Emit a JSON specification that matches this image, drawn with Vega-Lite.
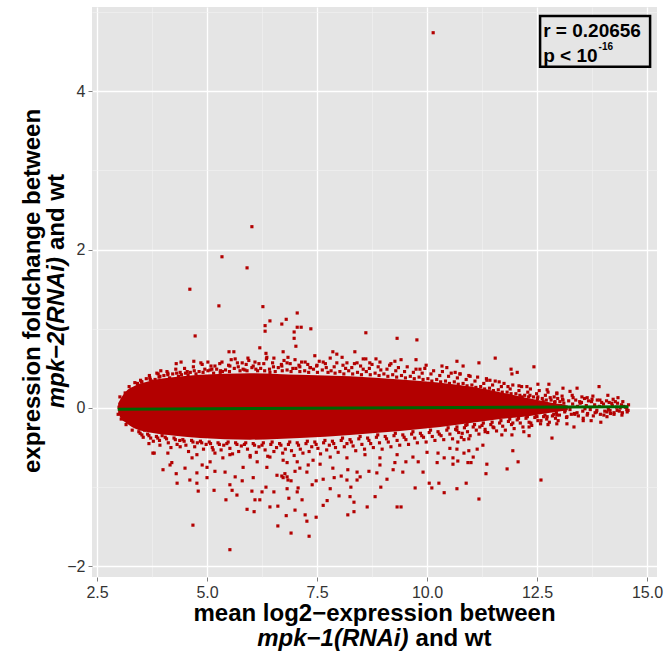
{
  "$schema": "https://vega.github.io/schema/vega-lite/v6.json",
  "width": 565,
  "height": 570,
  "autosize": {"type": "none"},
  "padding": {"left": 92, "top": 7, "right": 8, "bottom": 76},
  "background": "white",
  "config": {"view": {"fill": "#E5E5E5", "stroke": null}, "font": "Liberation Sans"},
  "datasets": {
    "core": [
      {"x": 2.98, "hi": 0.06, "lo": -0.06},
      {"x": 3.05, "hi": 0.13, "lo": -0.14},
      {"x": 3.14, "hi": 0.2, "lo": -0.18},
      {"x": 3.36, "hi": 0.28, "lo": -0.26},
      {"x": 3.7, "hi": 0.34, "lo": -0.31},
      {"x": 4.27, "hi": 0.39, "lo": -0.35},
      {"x": 4.84, "hi": 0.42, "lo": -0.38},
      {"x": 5.98, "hi": 0.44, "lo": -0.4},
      {"x": 7.11, "hi": 0.42, "lo": -0.38},
      {"x": 8.25, "hi": 0.4, "lo": -0.34},
      {"x": 9.39, "hi": 0.36, "lo": -0.29},
      {"x": 10.3, "hi": 0.32, "lo": -0.24},
      {"x": 10.98, "hi": 0.27, "lo": -0.19},
      {"x": 11.66, "hi": 0.2, "lo": -0.14},
      {"x": 12.34, "hi": 0.12, "lo": -0.1},
      {"x": 12.8, "hi": 0.07, "lo": -0.06},
      {"x": 13.2, "hi": 0.03, "lo": -0.03}
    ],
    "fit": [
      {"x": 2.97, "y": -0.015},
      {"x": 14.58, "y": 0.015}
    ],
    "pts": [
      {"x":10.14,"y":4.74},{"x":6.02,"y":2.29},{"x":5.34,"y":1.91},{"x":5.91,"y":1.77},{"x":4.61,"y":1.5},
      {"x":5.27,"y":1.29},{"x":6.27,"y":1.28},{"x":6.43,"y":1.1},{"x":6.8,"y":1.12},{"x":6.7,"y":1.06},
      {"x":6.32,"y":1.04},{"x":6.32,"y":0.97},{"x":4.73,"y":0.91},{"x":6.2,"y":0.76},{"x":5.5,"y":0.71},
      {"x":5.61,"y":0.71},{"x":6.34,"y":0.69},{"x":5.93,"y":0.63},{"x":5.64,"y":0.62},{"x":6.73,"y":0.71},
      {"x":6.84,"y":0.64},{"x":4.3,"y":0.56},{"x":4.41,"y":0.58},{"x":4.7,"y":0.59},{"x":4.86,"y":0.57},
      {"x":5.02,"y":0.58},{"x":5.34,"y":0.58},{"x":5.52,"y":0.53},{"x":5.8,"y":0.57},{"x":6.05,"y":0.53},
      {"x":6.18,"y":0.56},{"x":6.36,"y":0.64},{"x":6.52,"y":0.63},{"x":6.7,"y":0.53},{"x":6.82,"y":0.57},
      {"x":3.86,"y":0.44},{"x":4.11,"y":0.44},{"x":4.57,"y":0.42},{"x":3.52,"y":0.33},{"x":3.36,"y":0.32},
      {"x":3.23,"y":0.27},{"x":3.02,"y":0.14},{"x":3.14,"y":0.19},{"x":7.05,"y":1.2},{"x":7.14,"y":1.02},
      {"x":7.05,"y":1.02},{"x":6.98,"y":0.96},{"x":6.98,"y":0.88},{"x":7.02,"y":0.78},{"x":7.36,"y":1.0},
      {"x":8.61,"y":0.95},{"x":9.32,"y":0.88},{"x":9.77,"y":0.86},{"x":7.0,"y":0.61},{"x":7.23,"y":0.58},
      {"x":7.45,"y":0.66},{"x":7.86,"y":0.71},{"x":7.95,"y":0.68},{"x":8.07,"y":0.64},{"x":8.36,"y":0.71},
      {"x":8.55,"y":0.62},{"x":8.61,"y":0.62},{"x":8.84,"y":0.62},{"x":8.93,"y":0.58},{"x":9.18,"y":0.56},
      {"x":9.27,"y":0.59},{"x":9.41,"y":0.61},{"x":9.75,"y":0.61},{"x":9.98,"y":0.54},{"x":10.34,"y":0.53},
      {"x":10.68,"y":0.59},{"x":7.8,"y":0.63},{"x":7.64,"y":0.58},{"x":8.18,"y":0.57},{"x":8.41,"y":0.57},
      {"x":8.7,"y":0.57},{"x":9.84,"y":0.49},{"x":10.45,"y":0.51},{"x":10.64,"y":0.45},{"x":7.5,"y":0.54},
      {"x":7.11,"y":0.52},{"x":7.34,"y":0.51},{"x":10.82,"y":0.53},{"x":11.18,"y":0.57},{"x":11.55,"y":0.63},
      {"x":11.91,"y":0.49},{"x":11.93,"y":0.43},{"x":12.05,"y":0.45},{"x":12.43,"y":0.52},{"x":10.75,"y":0.43},
      {"x":10.98,"y":0.4},{"x":11.36,"y":0.35},{"x":11.43,"y":0.35},{"x":11.64,"y":0.33},{"x":12.52,"y":0.3},
      {"x":12.77,"y":0.3},{"x":13.09,"y":0.25},{"x":13.41,"y":0.25},{"x":13.91,"y":0.27},{"x":12.09,"y":0.28},
      {"x":12.27,"y":0.27},{"x":11.84,"y":0.27},{"x":12.73,"y":0.23},{"x":12.95,"y":0.19},{"x":13.25,"y":0.21},
      {"x":13.52,"y":0.14},{"x":13.77,"y":0.15},{"x":14.11,"y":0.16},{"x":14.23,"y":0.11},{"x":14.34,"y":0.13},
      {"x":14.45,"y":0.08},{"x":13.93,"y":0.1},{"x":13.64,"y":0.13},{"x":13.32,"y":0.13},{"x":13.09,"y":0.1},
      {"x":12.8,"y":0.13},{"x":12.52,"y":0.14},{"x":12.34,"y":0.16},{"x":12.16,"y":0.14},{"x":14.55,"y":-0.05},
      {"x":14.43,"y":-0.09},{"x":14.32,"y":-0.03},{"x":14.09,"y":-0.05},{"x":13.86,"y":-0.03},{"x":13.64,"y":-0.09},
      {"x":13.41,"y":-0.06},{"x":13.18,"y":-0.11},{"x":12.95,"y":-0.09},{"x":12.73,"y":-0.11},{"x":12.5,"y":-0.11},
      {"x":12.27,"y":-0.1},{"x":13.55,"y":-0.13},{"x":14.09,"y":-0.11},{"x":10.68,"y":-0.28},{"x":10.8,"y":-0.32},
      {"x":10.91,"y":-0.21},{"x":11.2,"y":-0.24},{"x":11.32,"y":-0.3},{"x":11.7,"y":-0.34},{"x":11.93,"y":-0.34},
      {"x":12.2,"y":-0.3},{"x":12.32,"y":-0.35},{"x":12.36,"y":-0.19},{"x":12.59,"y":-0.16},{"x":12.75,"y":-0.21},
      {"x":12.84,"y":-0.38},{"x":12.95,"y":-0.2},{"x":13.18,"y":-0.2},{"x":13.34,"y":-0.24},{"x":13.55,"y":-0.16},
      {"x":13.73,"y":-0.16},{"x":13.95,"y":-0.18},{"x":14.25,"y":-0.08},{"x":10.7,"y":-0.43},{"x":10.84,"y":-0.4},
      {"x":10.95,"y":-0.39},{"x":11.27,"y":-0.47},{"x":10.68,"y":-0.52},{"x":10.84,"y":-0.57},{"x":10.95,"y":-0.54},
      {"x":11.14,"y":-0.52},{"x":11.05,"y":-0.62},{"x":10.59,"y":-0.63},{"x":10.7,"y":-0.67},{"x":10.59,"y":-0.71},
      {"x":10.93,"y":-0.69},{"x":11.0,"y":-0.69},{"x":11.36,"y":-0.71},{"x":11.95,"y":-0.54},{"x":12.07,"y":-0.68},
      {"x":11.82,"y":-0.77},{"x":11.34,"y":-0.83},{"x":10.89,"y":-0.95},{"x":10.68,"y":-1.02},{"x":12.59,"y":-0.91},
      {"x":11.18,"y":-1.15},{"x":11.95,"y":-0.19},{"x":11.5,"y":-0.24},{"x":12.32,"y":-0.24},{"x":6.82,"y":-1.02},
      {"x":6.86,"y":-1.14},{"x":7.16,"y":-1.16},{"x":7.0,"y":-1.29},{"x":6.8,"y":-1.36},{"x":7.23,"y":-1.35},
      {"x":7.27,"y":-1.43},{"x":7.48,"y":-1.38},{"x":6.91,"y":-1.58},{"x":7.32,"y":-1.62},{"x":7.05,"y":-1.06},
      {"x":7.07,"y":-1.01},{"x":7.39,"y":-0.97},{"x":7.64,"y":-1.23},{"x":7.73,"y":-1.17},{"x":7.8,"y":-1.02},
      {"x":8.0,"y":-1.11},{"x":8.25,"y":-1.12},{"x":8.2,"y":-1.35},{"x":8.34,"y":-1.31},{"x":8.34,"y":-1.19},
      {"x":8.64,"y":-1.25},{"x":8.82,"y":-1.12},{"x":8.95,"y":-1.0},{"x":9.32,"y":-1.25},{"x":9.41,"y":-1.25},
      {"x":9.73,"y":-1.01},{"x":10.05,"y":-0.95},{"x":10.11,"y":-1.01},{"x":10.27,"y":-0.95},{"x":10.39,"y":-1.07},
      {"x":8.27,"y":-1.0},{"x":8.41,"y":-0.91},{"x":8.18,"y":-0.91},{"x":8.05,"y":-0.86},{"x":7.89,"y":-0.88},
      {"x":7.64,"y":-0.9},{"x":7.48,"y":-0.92},{"x":8.48,"y":-0.87},{"x":8.68,"y":-0.8},{"x":8.86,"y":-0.82},
      {"x":9.09,"y":-0.9},{"x":9.23,"y":-0.78},{"x":9.45,"y":-0.81},{"x":9.91,"y":-0.81},{"x":6.82,"y":-0.87},
      {"x":6.91,"y":-0.92},{"x":6.7,"y":-0.86},{"x":6.77,"y":-0.83},{"x":7.0,"y":-0.8},{"x":7.27,"y":-0.81},
      {"x":7.11,"y":-0.76},{"x":7.3,"y":-0.72},{"x":7.57,"y":-0.71},{"x":7.86,"y":-0.76},{"x":8.2,"y":-0.78},
      {"x":8.41,"y":-0.81},{"x":8.93,"y":-0.72},{"x":9.27,"y":-0.69},{"x":9.8,"y":-0.68},{"x":10.23,"y":-0.69},
      {"x":10.39,"y":-0.63},{"x":9.52,"y":-0.68},{"x":10.0,"y":-0.56},{"x":10.25,"y":-0.57},{"x":10.52,"y":-0.51},
      {"x":6.73,"y":-0.66},{"x":7.05,"y":-0.68},{"x":7.41,"y":-0.66},{"x":7.8,"y":-0.62},{"x":8.18,"y":-0.63},
      {"x":8.59,"y":-0.59},{"x":8.93,"y":-0.63},{"x":9.32,"y":-0.59},{"x":9.68,"y":-0.62},{"x":4.68,"y":-1.48},
      {"x":5.52,"y":-1.79},{"x":4.3,"y":-0.83},{"x":4.32,"y":-0.95},{"x":4.0,"y":-0.78},{"x":4.5,"y":-0.76},
      {"x":4.61,"y":-0.91},{"x":4.77,"y":-0.82},{"x":4.77,"y":-0.95},{"x":4.8,"y":-1.05},{"x":5.0,"y":-0.88},
      {"x":5.16,"y":-1.04},{"x":5.43,"y":-1.16},{"x":5.52,"y":-0.97},{"x":5.57,"y":-1.04},{"x":5.68,"y":-1.1},
      {"x":5.91,"y":-1.28},{"x":6.07,"y":-1.31},{"x":6.09,"y":-1.16},{"x":6.2,"y":-1.16},{"x":6.25,"y":-1.06},
      {"x":6.43,"y":-1.25},{"x":6.61,"y":-1.49},{"x":6.61,"y":-1.24},{"x":6.52,"y":-1.06},{"x":6.34,"y":-1.0},
      {"x":6.02,"y":-1.05},{"x":5.8,"y":-0.92},{"x":5.41,"y":-0.81},{"x":5.18,"y":-0.8},{"x":5.0,"y":-0.75},
      {"x":4.16,"y":-0.72},{"x":4.2,"y":-0.69},{"x":3.77,"y":-0.57},{"x":3.8,"y":-0.57},{"x":3.68,"y":-0.45},
      {"x":3.55,"y":-0.37},{"x":3.93,"y":-0.47},{"x":4.11,"y":-0.57},{"x":4.39,"y":-0.49},{"x":4.66,"y":-0.63},
      {"x":4.89,"y":-0.72},{"x":5.07,"y":-0.68},{"x":5.36,"y":-0.63},{"x":5.64,"y":-0.87},{"x":5.82,"y":-0.75},
      {"x":6.05,"y":-0.88},{"x":6.14,"y":-0.68},{"x":6.36,"y":-0.75},{"x":6.59,"y":-0.85},{"x":6.73,"y":-0.88},
      {"x":6.84,"y":-0.91},{"x":4.77,"y":-0.59},{"x":5.14,"y":-0.53},{"x":5.52,"y":-0.59},{"x":5.98,"y":-0.62},
      {"x":6.43,"y":-0.62},{"x":6.82,"y":-0.69},
      {"x":2.98,"y":-0.08},{"x":3.05,"y":-0.14},{"x":3.16,"y":-0.21},{"x":3.3,"y":-0.28},{"x":3.0,"y":0.01},
      {"x":3.7,"y":0.38},{"x":3.93,"y":0.4},{"x":4.39,"y":0.45},{"x":5.07,"y":0.48},{"x":5.3,"y":0.45},
      {"x":5.86,"y":0.48},{"x":6.43,"y":0.45},{"x":5.18,"y":0.53},
      {"x":3.42,"y":0.31},{"x":3.49,"y":0.35},{"x":3.55,"y":0.29},{"x":3.51,"y":0.33},{"x":3.45,"y":-0.3},{"x":3.52,"y":-0.34},{"x":3.58,"y":-0.28},{"x":3.48,"y":-0.32},
      {"x":3.62,"y":0.37},{"x":3.69,"y":0.41},{"x":3.75,"y":0.34},{"x":3.71,"y":0.36},{"x":3.65,"y":-0.33},{"x":3.72,"y":-0.38},{"x":3.78,"y":-0.42},{"x":3.68,"y":-0.35},
      {"x":3.82,"y":0.36},{"x":3.89,"y":0.43},{"x":3.95,"y":0.47},{"x":3.91,"y":0.39},{"x":3.85,"y":-0.36},{"x":3.92,"y":-0.41},{"x":3.98,"y":-0.35},{"x":3.88,"y":-0.38},
      {"x":4.02,"y":0.41},{"x":4.09,"y":0.46},{"x":4.15,"y":0.38},{"x":4.11,"y":0.42},{"x":4.05,"y":-0.37},{"x":4.12,"y":-0.44},{"x":4.18,"y":-0.5},{"x":4.08,"y":-0.39},
      {"x":4.22,"y":0.43},{"x":4.29,"y":0.49},{"x":4.35,"y":0.4},{"x":4.31,"y":0.44},{"x":4.25,"y":-0.38},{"x":4.32,"y":-0.46},{"x":4.38,"y":-0.41},{"x":4.28,"y":-0.4},
      {"x":4.42,"y":0.42},{"x":4.49,"y":0.5},{"x":4.55,"y":0.46},{"x":4.51,"y":0.44},{"x":4.45,"y":-0.4},{"x":4.52,"y":-0.47},{"x":4.58,"y":-0.55},{"x":4.48,"y":-0.42},
      {"x":4.62,"y":0.45},{"x":4.69,"y":0.52},{"x":4.75,"y":0.43},{"x":4.71,"y":0.47},{"x":4.65,"y":-0.41},{"x":4.72,"y":-0.49},{"x":4.78,"y":-0.44},{"x":4.68,"y":-0.43},
      {"x":4.82,"y":0.46},{"x":4.89,"y":0.55},{"x":4.95,"y":0.49},{"x":4.91,"y":0.45},{"x":4.85,"y":-0.42},{"x":4.92,"y":-0.52},{"x":4.98,"y":-0.46},{"x":4.88,"y":-0.44},
      {"x":5.02,"y":0.47},{"x":5.09,"y":0.53},{"x":5.15,"y":0.44},{"x":5.11,"y":0.49},{"x":5.05,"y":-0.43},{"x":5.12,"y":-0.5},{"x":5.18,"y":-0.57},{"x":5.08,"y":-0.45},
      {"x":5.22,"y":0.49},{"x":5.29,"y":0.56},{"x":5.35,"y":0.46},{"x":5.31,"y":0.47},{"x":5.25,"y":-0.44},{"x":5.32,"y":-0.53},{"x":5.38,"y":-0.47},{"x":5.28,"y":-0.46},
      {"x":5.42,"y":0.48},{"x":5.49,"y":0.54},{"x":5.55,"y":0.61},{"x":5.51,"y":0.46},{"x":5.45,"y":-0.45},{"x":5.52,"y":-0.51},{"x":5.58,"y":-0.58},{"x":5.48,"y":-0.43},
      {"x":5.62,"y":0.5},{"x":5.69,"y":0.57},{"x":5.75,"y":0.47},{"x":5.71,"y":0.52},{"x":5.65,"y":-0.44},{"x":5.72,"y":-0.55},{"x":5.78,"y":-0.48},{"x":5.68,"y":-0.46},
      {"x":5.82,"y":0.49},{"x":5.89,"y":0.55},{"x":5.95,"y":0.6},{"x":5.91,"y":0.47},{"x":5.85,"y":-0.46},{"x":5.92,"y":-0.52},{"x":5.98,"y":-0.6},{"x":5.88,"y":-0.44},
      {"x":6.02,"y":0.51},{"x":6.09,"y":0.58},{"x":6.15,"y":0.47},{"x":6.11,"y":0.49},{"x":6.05,"y":-0.45},{"x":6.12,"y":-0.56},{"x":6.18,"y":-0.49},{"x":6.08,"y":-0.47},
      {"x":6.22,"y":0.5},{"x":6.29,"y":0.56},{"x":6.35,"y":0.62},{"x":6.31,"y":0.47},{"x":6.25,"y":-0.47},{"x":6.32,"y":-0.53},{"x":6.38,"y":-0.61},{"x":6.28,"y":-0.44},
      {"x":6.42,"y":0.49},{"x":6.49,"y":0.57},{"x":6.55,"y":0.46},{"x":6.51,"y":0.52},{"x":6.45,"y":-0.46},{"x":6.52,"y":-0.55},{"x":6.58,"y":-0.5},{"x":6.48,"y":-0.43},
      {"x":6.62,"y":0.51},{"x":6.69,"y":0.55},{"x":6.75,"y":0.6},{"x":6.71,"y":0.47},{"x":6.65,"y":-0.45},{"x":6.72,"y":-0.57},{"x":6.78,"y":-0.52},{"x":6.68,"y":-0.47},
      {"x":6.82,"y":0.48},{"x":6.89,"y":0.56},{"x":6.95,"y":0.5},{"x":6.91,"y":0.46},{"x":6.85,"y":-0.46},{"x":6.92,"y":-0.54},{"x":6.98,"y":-0.6},{"x":6.88,"y":-0.43},
      {"x":7.02,"y":0.5},{"x":7.09,"y":0.54},{"x":7.15,"y":0.58},{"x":7.11,"y":0.46},{"x":7.05,"y":-0.44},{"x":7.12,"y":-0.52},{"x":7.18,"y":-0.57},{"x":7.08,"y":-0.47},
      {"x":7.22,"y":0.47},{"x":7.29,"y":0.55},{"x":7.35,"y":0.51},{"x":7.31,"y":0.45},{"x":7.25,"y":-0.45},{"x":7.32,"y":-0.55},{"x":7.38,"y":-0.49},{"x":7.28,"y":-0.42},
      {"x":7.42,"y":0.49},{"x":7.49,"y":0.53},{"x":7.55,"y":0.59},{"x":7.51,"y":0.45},{"x":7.45,"y":-0.43},{"x":7.52,"y":-0.51},{"x":7.58,"y":-0.58},{"x":7.48,"y":-0.46},
      {"x":7.62,"y":0.48},{"x":7.69,"y":0.56},{"x":7.75,"y":0.45},{"x":7.71,"y":0.51},{"x":7.65,"y":-0.44},{"x":7.72,"y":-0.53},{"x":7.78,"y":-0.47},{"x":7.68,"y":-0.41},
      {"x":7.82,"y":0.47},{"x":7.89,"y":0.52},{"x":7.95,"y":0.57},{"x":7.91,"y":0.44},{"x":7.85,"y":-0.42},{"x":7.92,"y":-0.5},{"x":7.98,"y":-0.56},{"x":7.88,"y":-0.45},
      {"x":8.02,"y":0.46},{"x":8.09,"y":0.54},{"x":8.15,"y":0.5},{"x":8.11,"y":0.43},{"x":8.05,"y":-0.41},{"x":8.12,"y":-0.49},{"x":8.18,"y":-0.45},{"x":8.08,"y":-0.38},
      {"x":8.22,"y":0.47},{"x":8.29,"y":0.51},{"x":8.35,"y":0.56},{"x":8.31,"y":0.43},{"x":8.25,"y":-0.4},{"x":8.32,"y":-0.48},{"x":8.38,"y":-0.54},{"x":8.28,"y":-0.43},
      {"x":8.42,"y":0.45},{"x":8.49,"y":0.53},{"x":8.55,"y":0.49},{"x":8.51,"y":0.42},{"x":8.45,"y":-0.39},{"x":8.52,"y":-0.46},{"x":8.58,"y":-0.52},{"x":8.48,"y":-0.36},
      {"x":8.62,"y":0.46},{"x":8.69,"y":0.5},{"x":8.75,"y":0.55},{"x":8.71,"y":0.42},{"x":8.65,"y":-0.38},{"x":8.72,"y":-0.45},{"x":8.78,"y":-0.5},{"x":8.68,"y":-0.41},
      {"x":8.82,"y":0.44},{"x":8.89,"y":0.52},{"x":8.95,"y":0.48},{"x":8.91,"y":0.41},{"x":8.85,"y":-0.37},{"x":8.92,"y":-0.44},{"x":8.98,"y":-0.52},{"x":8.88,"y":-0.34},
      {"x":9.02,"y":0.43},{"x":9.09,"y":0.49},{"x":9.15,"y":0.54},{"x":9.11,"y":0.4},{"x":9.05,"y":-0.36},{"x":9.12,"y":-0.43},{"x":9.18,"y":-0.49},{"x":9.08,"y":-0.39},
      {"x":9.22,"y":0.42},{"x":9.29,"y":0.47},{"x":9.35,"y":0.51},{"x":9.31,"y":0.39},{"x":9.25,"y":-0.35},{"x":9.32,"y":-0.41},{"x":9.38,"y":-0.47},{"x":9.28,"y":-0.32},
      {"x":9.42,"y":0.41},{"x":9.49,"y":0.46},{"x":9.55,"y":0.52},{"x":9.51,"y":0.38},{"x":9.45,"y":-0.34},{"x":9.52,"y":-0.4},{"x":9.58,"y":-0.46},{"x":9.48,"y":-0.37},
      {"x":9.62,"y":0.4},{"x":9.69,"y":0.45},{"x":9.75,"y":0.49},{"x":9.71,"y":0.37},{"x":9.65,"y":-0.33},{"x":9.72,"y":-0.38},{"x":9.78,"y":-0.44},{"x":9.68,"y":-0.3},
      {"x":9.82,"y":0.39},{"x":9.89,"y":0.44},{"x":9.95,"y":0.5},{"x":9.91,"y":0.36},{"x":9.85,"y":-0.32},{"x":9.92,"y":-0.37},{"x":9.98,"y":-0.43},{"x":9.88,"y":-0.35},
      {"x":10.02,"y":0.37},{"x":10.09,"y":0.43},{"x":10.15,"y":0.47},{"x":10.11,"y":0.34},{"x":10.05,"y":-0.31},{"x":10.12,"y":-0.36},{"x":10.18,"y":-0.41},{"x":10.08,"y":-0.28},
      {"x":10.22,"y":0.36},{"x":10.29,"y":0.41},{"x":10.35,"y":0.46},{"x":10.31,"y":0.33},{"x":10.25,"y":-0.3},{"x":10.32,"y":-0.35},{"x":10.38,"y":-0.4},{"x":10.28,"y":-0.33},
      {"x":10.42,"y":0.34},{"x":10.49,"y":0.4},{"x":10.55,"y":0.44},{"x":10.51,"y":0.31},{"x":10.45,"y":-0.28},{"x":10.52,"y":-0.33},{"x":10.58,"y":-0.39},{"x":10.48,"y":-0.25},
      {"x":10.62,"y":0.33},{"x":10.69,"y":0.38},{"x":10.75,"y":0.43},{"x":10.71,"y":0.3},{"x":10.65,"y":-0.27},{"x":10.72,"y":-0.31},{"x":10.78,"y":-0.37},{"x":10.68,"y":-0.24},
      {"x":10.82,"y":0.31},{"x":10.89,"y":0.36},{"x":10.95,"y":0.41},{"x":10.91,"y":0.28},{"x":10.85,"y":-0.25},{"x":10.92,"y":-0.3},{"x":10.98,"y":-0.35},{"x":10.88,"y":-0.22},
      {"x":11.02,"y":0.29},{"x":11.09,"y":0.34},{"x":11.15,"y":0.39},{"x":11.11,"y":0.26},{"x":11.05,"y":-0.24},{"x":11.12,"y":-0.28},{"x":11.18,"y":-0.33},{"x":11.08,"y":-0.21},
      {"x":11.22,"y":0.27},{"x":11.29,"y":0.31},{"x":11.35,"y":0.37},{"x":11.31,"y":0.24},{"x":11.25,"y":-0.22},{"x":11.32,"y":-0.27},{"x":11.38,"y":-0.31},{"x":11.28,"y":-0.19},
      {"x":11.42,"y":0.25},{"x":11.49,"y":0.29},{"x":11.55,"y":0.34},{"x":11.51,"y":0.22},{"x":11.45,"y":-0.21},{"x":11.52,"y":-0.25},{"x":11.58,"y":-0.29},{"x":11.48,"y":-0.18},
      {"x":11.62,"y":0.23},{"x":11.69,"y":0.27},{"x":11.75,"y":0.31},{"x":11.71,"y":0.2},{"x":11.65,"y":-0.19},{"x":11.72,"y":-0.23},{"x":11.78,"y":-0.28},{"x":11.68,"y":-0.16},
      {"x":11.82,"y":0.2},{"x":11.89,"y":0.24},{"x":11.95,"y":0.29},{"x":11.91,"y":0.18},{"x":11.85,"y":-0.17},{"x":11.92,"y":-0.21},{"x":11.98,"y":-0.26},{"x":11.88,"y":-0.14},
      {"x":12.02,"y":0.18},{"x":12.09,"y":0.22},{"x":12.15,"y":0.27},{"x":12.11,"y":0.16},{"x":12.05,"y":-0.15},{"x":12.12,"y":-0.19},{"x":12.18,"y":-0.24},{"x":12.08,"y":-0.13},
      {"x":12.22,"y":0.16},{"x":12.29,"y":0.2},{"x":12.35,"y":0.24},{"x":12.31,"y":0.14},{"x":12.25,"y":-0.13},{"x":12.32,"y":-0.18},{"x":12.38,"y":-0.22},{"x":12.28,"y":-0.11},
      {"x":12.42,"y":0.14},{"x":12.49,"y":0.18},{"x":12.55,"y":0.22},{"x":12.51,"y":0.12},{"x":12.45,"y":-0.12},{"x":12.52,"y":-0.16},{"x":12.58,"y":-0.2},{"x":12.48,"y":-0.1},
      {"x":12.62,"y":0.12},{"x":12.69,"y":0.16},{"x":12.75,"y":0.2},{"x":12.71,"y":0.1},{"x":12.65,"y":-0.11},{"x":12.72,"y":-0.14},{"x":12.78,"y":-0.18},{"x":12.68,"y":-0.09},
      {"x":12.82,"y":0.1},{"x":12.89,"y":0.14},{"x":12.95,"y":0.18},{"x":12.91,"y":0.08},{"x":12.85,"y":-0.1},{"x":12.92,"y":-0.13},{"x":12.98,"y":-0.16},{"x":12.88,"y":-0.08},
      {"x":12.9,"y":0.07},{"x":12.94,"y":-0.06},{"x":12.97,"y":0.12},{"x":13.01,"y":-0.09},{"x":13.04,"y":0.03},{"x":13.08,"y":0.11},
      {"x":13.11,"y":0.06},{"x":13.13,"y":-0.05},{"x":13.17,"y":-0.12},{"x":13.22,"y":0.09},{"x":13.25,"y":-0.02},{"x":13.28,"y":-0.08},
      {"x":13.31,"y":0.05},{"x":13.35,"y":-0.07},{"x":13.38,"y":0.1},{"x":13.42,"y":0.02},{"x":13.44,"y":-0.1},{"x":13.47,"y":0.08},
      {"x":13.51,"y":0.07},{"x":13.54,"y":-0.04},{"x":13.58,"y":0.12},{"x":13.62,"y":0.03},{"x":13.65,"y":-0.07},{"x":13.67,"y":0.09},
      {"x":13.71,"y":-0.02},{"x":13.74,"y":0.08},{"x":13.78,"y":-0.1},{"x":13.81,"y":0.04},{"x":13.85,"y":-0.05},{"x":13.87,"y":0.1},
      {"x":13.92,"y":0.02},{"x":13.94,"y":-0.08},{"x":13.97,"y":0.07},{"x":14.01,"y":0.05},{"x":14.04,"y":-0.04},{"x":14.08,"y":0.09},
      {"x":14.12,"y":-0.02},{"x":14.14,"y":0.07},{"x":14.17,"y":-0.07},{"x":14.21,"y":0.03},{"x":14.25,"y":-0.06},{"x":14.28,"y":0.08},
      {"x":14.31,"y":0.01},{"x":14.33,"y":0.06},{"x":14.37,"y":-0.04},{"x":14.42,"y":0.04},{"x":14.44,"y":-0.06},{"x":14.47,"y":0.02},
      {"x":14.51,"y":0.01},{"x":14.54,"y":-0.02},{"x":14.58,"y":0.04},
      {"x":13.02,"y":0.08},{"x":13.14,"y":-0.03},{"x":13.36,"y":-0.08},{"x":13.48,"y":0.06},{"x":13.59,"y":-0.01},
      {"x":13.82,"y":-0.06},{"x":14.16,"y":-0.03},{"x":14.39,"y":0.0},{"x":14.57,"y":-0.03},{"x":13.07,"y":0.15},
      {"x":13.3,"y":0.16},{"x":13.75,"y":0.11},{"x":14.02,"y":-0.09},{"x":14.2,"y":0.06},{"x":12.75,"y":-0.03},
      {"x":12.64,"y":0.08},{"x":12.52,"y":-0.05},{"x":12.41,"y":0.04}
    ]
  },
  "layer": [
    {
      "data": {"name": "core"},
      "mark": {"type": "area", "color": "#B30000", "opacity": 1, "interpolate": "monotone"},
      "encoding": {
        "x": {
          "field": "x", "type": "quantitative", "title": null,
          "scale": {"domain": [2.386, 15.227], "nice": false, "zero": false},
          "axis": {
            "values": [2.5, 3.75, 5, 6.25, 7.5, 8.75, 10, 11.25, 12.5, 13.75, 15],
            "labelExpr": "datum.value % 2.5 === 0 ? format(datum.value, '.1f') : ''",
            "domain": false,
            "grid": true,
            "gridColor": {"condition": {"test": "datum.value % 2.5 === 0", "value": "#FFFFFF"}, "value": "#F2F2F2"},
            "gridWidth": {"condition": {"test": "datum.value % 2.5 === 0", "value": 1.3}, "value": 0.6},
            "tickColor": "#7F7F7F",
            "tickOpacity": {"condition": {"test": "datum.value % 2.5 === 0", "value": 1}, "value": 0},
            "tickSize": 4,
            "tickWidth": 1,
            "labelPadding": 3,
            "labelFont": "Liberation Sans",
            "labelFontSize": 16,
            "labelColor": "#333333"
          }
        },
        "y": {
          "field": "hi", "type": "quantitative", "title": null,
          "scale": {"domain": [-2.135, 5.065], "nice": false, "zero": false},
          "axis": {
            "values": [-2, -1, 0, 1, 2, 3, 4, 5],
            "labelExpr": "datum.value % 2 === 0 ? format(datum.value, 'd') : ''",
            "domain": false,
            "grid": true,
            "gridColor": {"condition": {"test": "datum.value % 2 === 0", "value": "#FFFFFF"}, "value": "#F2F2F2"},
            "gridWidth": {"condition": {"test": "datum.value % 2 === 0", "value": 1.3}, "value": 0.6},
            "tickColor": "#7F7F7F",
            "tickOpacity": {"condition": {"test": "datum.value % 2 === 0", "value": 1}, "value": 0},
            "tickSize": 4,
            "tickWidth": 1,
            "labelPadding": 3,
            "labelFont": "Liberation Sans",
            "labelFontSize": 16,
            "labelColor": "#333333"
          }
        },
        "y2": {"field": "lo"}
      }
    },
    {
      "data": {"name": "pts"},
      "mark": {"type": "point", "shape": "square", "filled": true, "size": 10, "color": "#B30000", "opacity": 1},
      "encoding": {
        "x": {"field": "x", "type": "quantitative", "title": null},
        "y": {"field": "y", "type": "quantitative", "title": null}
      }
    },
    {
      "data": {"name": "fit"},
      "mark": {"type": "line", "color": "#006400", "strokeWidth": 3},
      "encoding": {
        "x": {"field": "x", "type": "quantitative", "title": null},
        "y": {"field": "y", "type": "quantitative", "title": null}
      }
    },
    {
      "data": {"values": [{}]},
      "mark": {"type": "rect", "fill": "#E5E5E5", "stroke": "#000000", "strokeWidth": 2.5},
      "encoding": {
        "x": {"datum": 12.57, "type": "quantitative", "title": null},
        "x2": {"datum": 15.07},
        "y": {"datum": 4.95, "type": "quantitative", "title": null},
        "y2": {"datum": 4.31}
      }
    },
    {
      "data": {"values": [{}]},
      "mark": {"type": "text", "text": "r = 0.20656", "font": "Liberation Sans", "fontWeight": "bold", "fontSize": 19, "align": "left", "baseline": "alphabetic", "color": "#000000"},
      "encoding": {
        "x": {"datum": 12.64, "type": "quantitative", "title": null},
        "y": {"datum": 4.69, "type": "quantitative", "title": null}
      }
    },
    {
      "data": {"values": [{}]},
      "mark": {"type": "text", "text": "p < 10", "font": "Liberation Sans", "fontWeight": "bold", "fontSize": 19, "align": "left", "baseline": "alphabetic", "color": "#000000"},
      "encoding": {
        "x": {"datum": 12.64, "type": "quantitative", "title": null},
        "y": {"datum": 4.37, "type": "quantitative", "title": null}
      }
    },
    {
      "data": {"values": [{}]},
      "mark": {"type": "text", "text": "-16", "font": "Liberation Sans", "fontWeight": "bold", "fontSize": 10, "align": "left", "baseline": "alphabetic", "color": "#000000"},
      "encoding": {
        "x": {"datum": 13.9, "type": "quantitative", "title": null},
        "y": {"datum": 4.52, "type": "quantitative", "title": null}
      }
    },
    {
      "data": {"values": [{}]},
      "mark": {"type": "text", "text": "mean log2\u2212expression between", "font": "Liberation Sans", "fontWeight": "bold", "fontSize": 24, "align": "center", "baseline": "alphabetic", "dy": 44, "color": "#000000"},
      "encoding": {
        "x": {"datum": 8.807, "type": "quantitative", "title": null},
        "y": {"datum": -2.135, "type": "quantitative", "title": null}
      }
    },
    {
      "data": {"values": [{}]},
      "mark": {"type": "text", "text": "mpk\u22121(RNAi)", "font": "Liberation Sans", "fontWeight": "bold", "fontStyle": "italic", "fontSize": 24, "align": "right", "baseline": "alphabetic", "dy": 69, "color": "#000000"},
      "encoding": {
        "x": {"datum": 9.58, "type": "quantitative", "title": null},
        "y": {"datum": -2.135, "type": "quantitative", "title": null}
      }
    },
    {
      "data": {"values": [{}]},
      "mark": {"type": "text", "text": "and wt", "font": "Liberation Sans", "fontWeight": "bold", "fontSize": 24, "align": "left", "baseline": "alphabetic", "dx": 7, "dy": 69, "color": "#000000"},
      "encoding": {
        "x": {"datum": 9.58, "type": "quantitative", "title": null},
        "y": {"datum": -2.135, "type": "quantitative", "title": null}
      }
    },
    {
      "data": {"values": [{}]},
      "mark": {"type": "text", "text": "expression foldchange between", "font": "Liberation Sans", "fontWeight": "bold", "fontSize": 24, "angle": 270, "align": "center", "baseline": "alphabetic", "dy": -52, "color": "#000000"},
      "encoding": {
        "x": {"datum": 2.386, "type": "quantitative", "title": null},
        "y": {"datum": 1.478, "type": "quantitative", "title": null}
      }
    },
    {
      "data": {"values": [{}]},
      "mark": {"type": "text", "text": "mpk\u22122(RNAi)", "font": "Liberation Sans", "fontWeight": "bold", "fontStyle": "italic", "fontSize": 24, "angle": 270, "align": "right", "baseline": "alphabetic", "dy": -28, "color": "#000000"},
      "encoding": {
        "x": {"datum": 2.386, "type": "quantitative", "title": null},
        "y": {"datum": 1.907, "type": "quantitative", "title": null}
      }
    },
    {
      "data": {"values": [{}]},
      "mark": {"type": "text", "text": "and wt", "font": "Liberation Sans", "fontWeight": "bold", "fontSize": 24, "angle": 270, "align": "left", "baseline": "alphabetic", "dx": 7, "dy": -28, "color": "#000000"},
      "encoding": {
        "x": {"datum": 2.386, "type": "quantitative", "title": null},
        "y": {"datum": 1.907, "type": "quantitative", "title": null}
      }
    }
  ]
}
